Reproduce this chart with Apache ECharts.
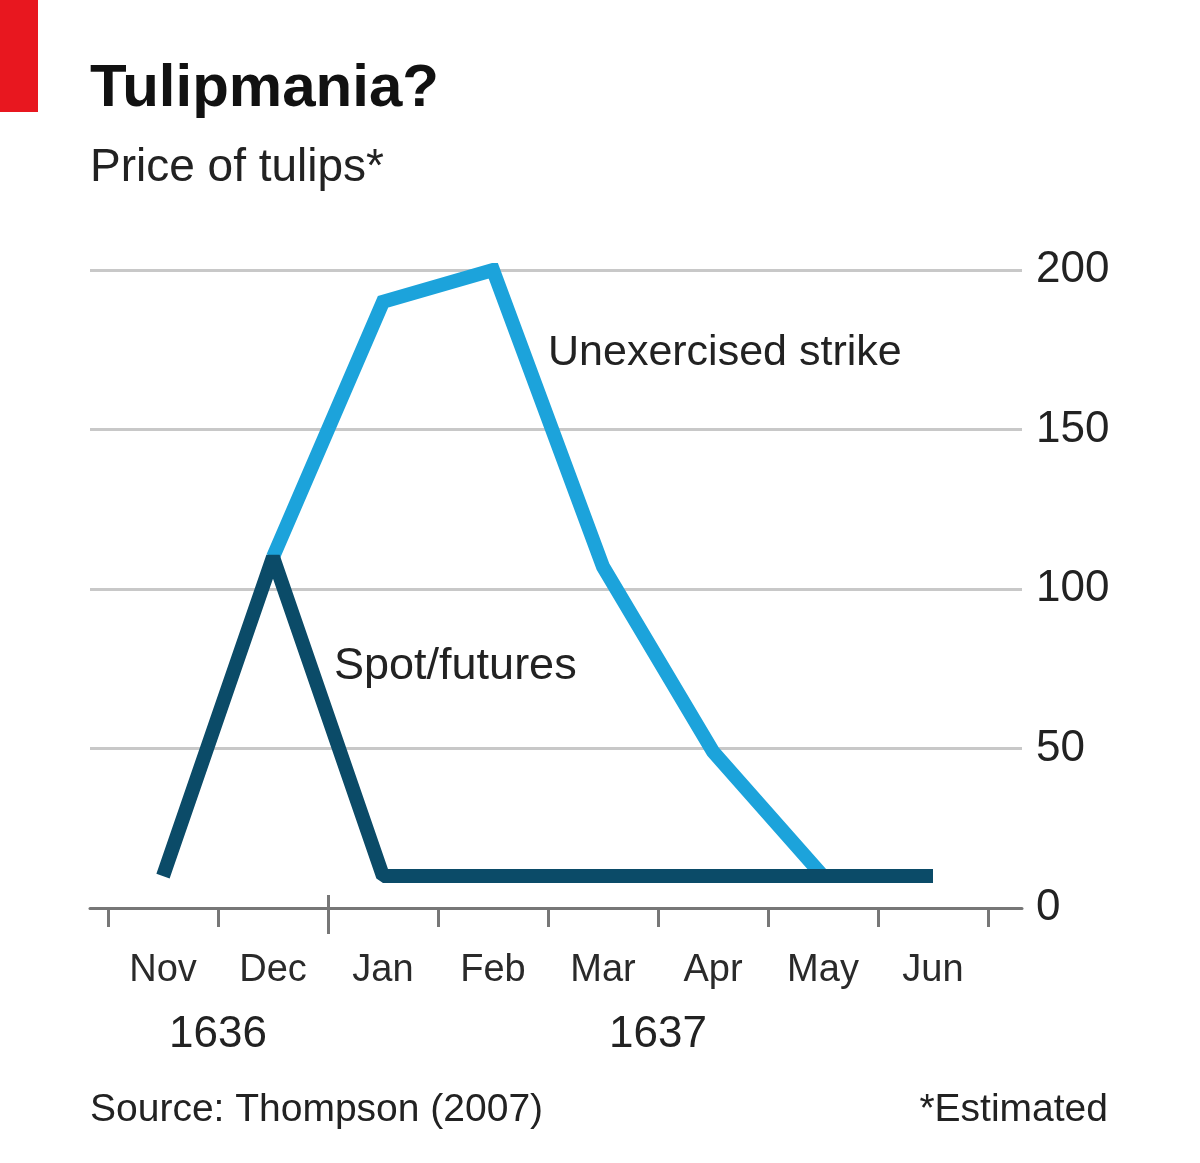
<!DOCTYPE html>
<html>
<head>
<meta charset="utf-8">
<script src="https://cdn.jsdelivr.net/npm/echarts@6/dist/echarts.min.js"></script>
<style>
html,body{margin:0;padding:0;background:#fff;}
#chart{width:1200px;height:1163px;}
</style>
</head>
<body>
<div id="chart"></div>
<script>
// ---- data ----
const months = ['Nov', 'Dec', 'Jan', 'Feb', 'Mar', 'Apr', 'May', 'Jun'];
const yearLabels = ['', '1636', '', '', '', '1637', '', '', ''];
const spotFutures = [10, 110, 10, 10, 10, 10, 10, 10];
const unexercisedStrike = [null, 110, 190, 200, 107, 49, 10, null];
const yMin = 0, yMax = 200, yStep = 50;

const FONT = '"Liberation Sans", Arial, sans-serif';
const chart = echarts.init(document.getElementById('chart'), null, {renderer: 'canvas'});

chart.setOption({
  animation: false,
  backgroundColor: '#ffffff',
  grid: [
    {left: 90, right: 178, top: 270, bottom: 255},
    {left: 108, right: 212, top: 270, bottom: 255}
  ],
  xAxis: [
    { // frame axis: full-width baseline
      gridIndex: 0, type: 'value', min: 0, max: 1, position: 'bottom',
      axisLine: {show: true, lineStyle: {color: '#777777', width: 3}},
      axisTick: {show: false}, axisLabel: {show: false}, splitLine: {show: false}
    },
    { // months
      gridIndex: 1, type: 'category', data: months, boundaryGap: true, position: 'bottom',
      axisLine: {show: false},
      axisTick: {show: true, length: 19, interval: 0, lineStyle: {color: '#777777', width: 3}},
      axisLabel: {interval: 0, fontSize: 38, fontFamily: FONT, color: '#2a2a2a', margin: 44},
      splitLine: {show: false}
    },
    { // years + year separator tick
      gridIndex: 1, type: 'category', data: yearLabels, boundaryGap: false,
      position: 'bottom', offset: -13,
      axisLine: {show: false},
      axisTick: {show: true, length: 39, interval: function (i) { return i === 2; },
                 lineStyle: {color: '#777777', width: 3}},
      axisLabel: {interval: 0, fontSize: 44, fontFamily: FONT, color: '#222222', margin: 118},
      splitLine: {show: false}
    }
  ],
  yAxis: [
    {
      gridIndex: 0, type: 'value', position: 'right', min: yMin, max: yMax, interval: yStep,
      axisLine: {show: false}, axisTick: {show: false},
      axisLabel: {fontSize: 44, fontFamily: FONT, color: '#222222', margin: 14},
      splitLine: {show: true, lineStyle: {color: '#c8c8c8', width: 3}}
    },
    {
      gridIndex: 1, type: 'value', min: yMin, max: yMax, interval: yStep, show: false
    }
  ],
  series: [
    {
      name: 'Unexercised strike', type: 'line', xAxisIndex: 1, yAxisIndex: 1,
      data: unexercisedStrike, showSymbol: false, symbol: 'none', z: 3,
      lineStyle: {color: '#1ca3db', width: 14, cap: 'butt', join: 'miter'}
    },
    {
      name: 'Spot/futures', type: 'line', xAxisIndex: 1, yAxisIndex: 1,
      data: spotFutures, showSymbol: false, symbol: 'none', z: 4,
      lineStyle: {color: '#0b4b68', width: 14, cap: 'butt', join: 'bevel'}
    }
  ],
  graphic: [
    {type: 'rect', left: 0, top: 0, shape: {width: 38, height: 112}, style: {fill: '#e8171f'}, z: 10},
    {type: 'text', x: 90, y: 89, style: {text: 'Tulipmania?', fontSize: 60, fontWeight: 'bold', fontFamily: FONT, fill: '#111111', verticalAlign: 'middle', align: 'left'}},
    {type: 'text', x: 90, y: 168, style: {text: 'Price of tulips*', fontSize: 46, fontFamily: FONT, fill: '#222222', verticalAlign: 'middle', align: 'left'}},
    {type: 'text', x: 548, y: 353, style: {text: 'Unexercised strike', fontSize: 43, fontFamily: FONT, fill: '#222222', verticalAlign: 'middle', align: 'left'}},
    {type: 'text', x: 334, y: 667, style: {text: 'Spot/futures', fontSize: 45, fontFamily: FONT, fill: '#222222', verticalAlign: 'middle', align: 'left'}},
    {type: 'text', x: 90, y: 1110, style: {text: 'Source: Thompson (2007)', fontSize: 39, fontFamily: FONT, fill: '#222222', verticalAlign: 'middle', align: 'left'}},
    {type: 'text', x: 1108, y: 1110, style: {text: '*Estimated', fontSize: 39, fontFamily: FONT, fill: '#222222', verticalAlign: 'middle', align: 'right'}}
  ]
});
</script>
</body>
</html>
